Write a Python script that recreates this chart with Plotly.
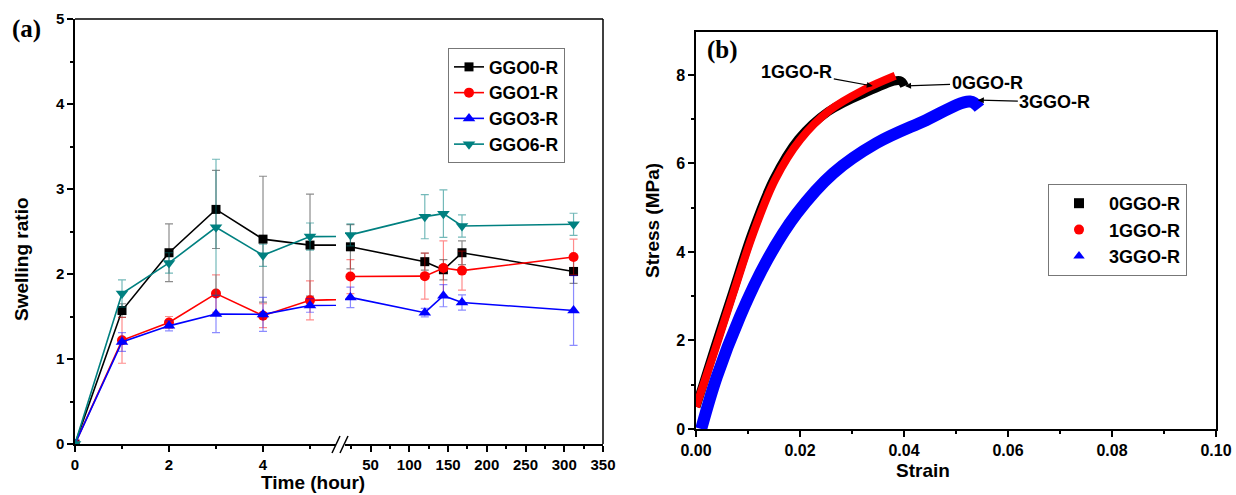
import plotly.graph_objects as go

# ---------------- data: panel (a) swelling ratio ----------------
time_h = [0, 1, 2, 3, 4, 5, 24, 120, 144, 168, 312]
ggo0 = [0, 1.57, 2.25, 2.76, 2.41, 2.34, 2.32, 2.145, 2.05, 2.25, 2.03]
ggo0_err = [0, 0.08, 0.34, 0.46, 0.74, 0.60, 0.26, 0.10, 0.12, 0.14, 0.14]
ggo1 = [0, 1.22, 1.43, 1.77, 1.51, 1.69, 1.97, 1.975, 2.07, 2.04, 2.20]
ggo1_err = [0, 0.27, 0.07, 0.22, 0.14, 0.23, 0.20, 0.27, 0.32, 0.23, 0.21]
ggo3 = [0, 1.20, 1.39, 1.53, 1.525, 1.63, 1.725, 1.545, 1.745, 1.665, 1.57]
ggo3_err = [0, 0.11, 0.06, 0.22, 0.20, 0.08, 0.12, 0.05, 0.13, 0.09, 0.41]
ggo6 = [0, 1.77, 2.13, 2.55, 2.22, 2.44, 2.46, 2.675, 2.71, 2.565, 2.585]
ggo6_err = [0, 0.16, 0.12, 0.80, 0.13, 0.16, 0.13, 0.26, 0.28, 0.13, 0.13]

# ---------------- data: panel (b) stress-strain ----------------
strain_0 = [0, 0.00345, 0.00700, 0.01075, 0.0149, 0.0197, 0.0254, 0.0322, 0.0392, 0.0401]
stress_0 = [0.5, 1.785, 3.07, 4.42, 5.63, 6.55, 7.17, 7.58, 7.87, 7.75]
strain_1 = [0, 0.00365, 0.00718, 0.011, 0.0152, 0.0200, 0.0258, 0.0322, 0.0383]
stress_1 = [0.5, 1.785, 3.07, 4.42, 5.63, 6.53, 7.21, 7.66, 7.98]
strain_3 = [0.001, 0.004, 0.00846, 0.0136, 0.0194, 0.0264, 0.0347, 0.0437, 0.0527, 0.0545]
stress_3 = [0.0, 1.18, 2.54, 3.80, 4.87, 5.78, 6.46, 6.95, 7.40, 7.25]

# page body margin is removed by the post script, so the figure fills the window
W, H = 1236, 495


def fx(p):
    return p / W


def fy(p):
    return 1 - p / H


FONT = "Liberation Sans, Arial, sans-serif"
fig = go.Figure()

series_a = [
    ("GGO0-R", ggo0, ggo0_err, "#000000", "square", 9, "rgba(0,0,0,0.45)"),
    ("GGO1-R", ggo1, ggo1_err, "#ff0000", "circle", 10, "rgba(255,0,0,0.45)"),
    ("GGO3-R", ggo3, ggo3_err, "#0000ff", "triangle-up", 11, "rgba(0,0,255,0.45)"),
    ("GGO6-R", ggo6, ggo6_err, "#008080", "triangle-down", 11, "rgba(0,128,128,0.55)"),
]

split = time_h.index(24)
for name, vals, err, col, sym, size, ecol in series_a:
    # left segment (0-5 h, line continues to the break)
    fig.add_trace(go.Scatter(
        x=time_h[:split + 1], y=vals[:split + 1], mode="lines+markers", name=name,
        xaxis="x", yaxis="y", legend="legend",
        line=dict(color=col, width=1.6),
        marker=dict(symbol=sym, size=size, color=col),
        error_y=dict(type="data", array=err[:split + 1], color=ecol, thickness=1.2, width=4),
    ))
    # right segment (>= 24 h)
    fig.add_trace(go.Scatter(
        x=time_h[split:], y=vals[split:], mode="lines+markers", name=name,
        xaxis="x2", yaxis="y", showlegend=False,
        line=dict(color=col, width=1.6),
        marker=dict(symbol=sym, size=size, color=col),
        error_y=dict(type="data", array=err[split:], color=ecol, thickness=1.2, width=4),
    ))

# panel (b) curves
for sx, sy, col, w in [(strain_3, stress_3, "#0000ff", 12),
                       (strain_0, stress_0, "#000000", 9),
                       (strain_1, stress_1, "#ff0000", 8)]:
    fig.add_trace(go.Scatter(
        x=sx, y=sy, mode="lines", xaxis="x3", yaxis="y3", showlegend=False,
        line=dict(color=col, width=w, shape="spline", smoothing=1.0),
    ))

for name, col, sym in [("0GGO-R", "#000000", "square"),
                       ("1GGO-R", "#ff0000", "circle"),
                       ("3GGO-R", "#0000ff", "triangle-up")]:
    fig.add_trace(go.Scatter(
        x=[None], y=[None], mode="markers", name=name, xaxis="x3", yaxis="y3",
        legend="legend2", marker=dict(symbol=sym, size=10, color=col),
    ))

tickf_a = dict(family=FONT, size=15, color="black", weight="bold")
tickf_b = dict(family=FONT, size=16, color="black", weight="bold")
axis_common = dict(showgrid=False, zeroline=False, showline=True, linecolor="black",
                   linewidth=1.5, ticks="outside", ticklen=6, tickwidth=1.5,
                   tickcolor="black", automargin=False)
minor_common = dict(ticks="outside", ticklen=3.5, tickwidth=1.5, tickcolor="black")

fig.update_layout(
    template="none",
    width=W, height=H, autosize=False,
    margin=dict(l=0, r=0, t=0, b=0, autoexpand=False),
    paper_bgcolor="white", plot_bgcolor="white",
    xaxis=dict(domain=[fx(75), fx(336)], range=[0, 5.553], anchor="y",
               tick0=0, dtick=2, tickfont=tickf_a,
               minor=dict(dtick=1, **minor_common), **axis_common),
    xaxis2=dict(domain=[fx(345), fx(603)], range=[17, 350], anchor="y",
                tick0=0, dtick=50, tickfont=tickf_a,
                minor=dict(dtick=25, **minor_common), **axis_common),
    yaxis=dict(domain=[fy(444), fy(19)], range=[0, 5], anchor="x",
               tick0=0, dtick=1, tickfont=tickf_a,
               minor=dict(dtick=0.5, **minor_common), **axis_common),
    xaxis3=dict(domain=[fx(696), fx(1216)], range=[0, 0.1], anchor="y3",
                tick0=0, dtick=0.02, tickformat=".2f", tickfont=tickf_b, mirror=True,
                minor=dict(dtick=0.01, **minor_common), **axis_common),
    yaxis3=dict(domain=[fy(429), fy(32)], range=[0, 8.97], anchor="x3",
                tick0=0, dtick=2, tickfont=tickf_b, mirror=True,
                minor=dict(dtick=1, **minor_common), **axis_common),
    legend=dict(x=fx(448), y=fy(48), xanchor="left", yanchor="top",
                bordercolor="#777777", borderwidth=1, bgcolor="white",
                font=dict(family=FONT, size=17.5, color="black", weight="bold"),
                tracegroupgap=0, itemclick=False),
    legend2=dict(x=fx(1048), y=fy(184), xanchor="left", yanchor="top",
                 bordercolor="#777777", borderwidth=1, bgcolor="white",
                 font=dict(family=FONT, size=18, color="black", weight="bold"),
                 tracegroupgap=0, itemclick=False, itemwidth=50),
    showlegend=True,
)

# frame of panel (a) (top and right) and the axis break marks
line_style = dict(color="black", width=1.5)
fig.add_shape(type="line", xref="paper", yref="paper", x0=fx(75), x1=fx(603),
              y0=fy(19), y1=fy(19), line=line_style)
fig.add_shape(type="line", xref="paper", yref="paper", x0=fx(603), x1=fx(603),
              y0=fy(19), y1=fy(444), line=line_style)
for x0 in (332, 340):
    fig.add_shape(type="line", xref="paper", yref="paper", x0=fx(x0), x1=fx(x0 + 8),
                  y0=fy(453), y1=fy(436), line=dict(color="black", width=1.5))

ann_font = dict(family=FONT, size=19, color="black", weight="bold")
annotations = [
    dict(text="Time (hour)", x=fx(313), y=fy(482)),
    dict(text="Strain", x=fx(923), y=fy(470)),
    dict(text="Swelling ratio", x=fx(21), y=fy(259), textangle=-90),
    dict(text="Stress (MPa)", x=fx(652), y=fy(220), textangle=-90),
]
for a in annotations:
    fig.add_annotation(xref="paper", yref="paper", showarrow=False, font=ann_font,
                       xanchor="center", yanchor="middle", **a)

fig.add_annotation(text="(a)", xref="paper", yref="paper", x=fx(26), y=fy(29),
                   showarrow=False, xanchor="center", yanchor="middle",
                   font=dict(family="Liberation Serif, Times New Roman, serif", size=25,
                             color="black", weight="bold"))
fig.add_annotation(text="(b)", xref="paper", yref="paper", x=fx(722), y=fy(50),
                   showarrow=False, xanchor="center", yanchor="middle",
                   font=dict(family="Liberation Serif, Times New Roman, serif", size=25,
                             color="black", weight="bold"))

# arrow labels in panel (b)
arrow_font = dict(family=FONT, size=18, color="black", weight="bold")
for text, hx, hy, ax, ay in [("1GGO-R", 0.0340, 7.75, -76, -14),
                             ("0GGO-R", 0.0402, 7.75, 82, -3),
                             ("3GGO-R", 0.0542, 7.43, 77, 2)]:
    fig.add_annotation(text=text, xref="x3", yref="y3", x=hx, y=hy, ax=ax, ay=ay,
                       showarrow=True, arrowhead=2, arrowsize=1, arrowwidth=1.2,
                       arrowcolor="black", font=arrow_font)

# remove the default page margin so the figure sits at the window's top-left corner
fig.write_html("out.html",
               config={"displayModeBar": False},
               post_script="document.body.style.margin='0';"
                           "document.documentElement.style.overflow='hidden';"
                           "document.body.style.overflow='hidden';")
